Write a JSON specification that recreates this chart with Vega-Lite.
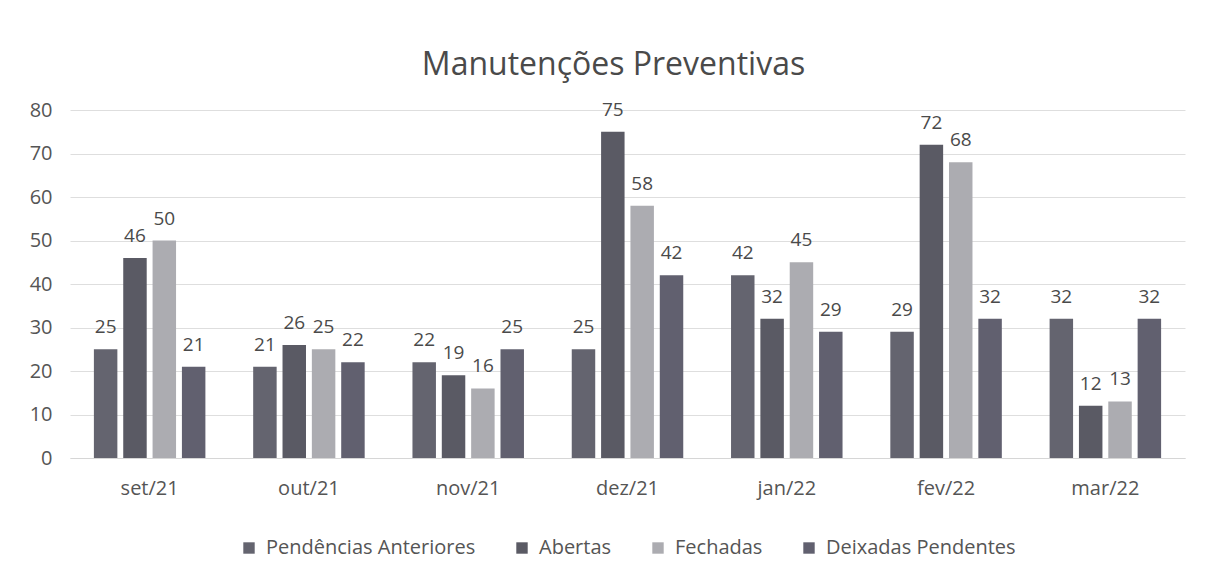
{
  "$schema": "https://vega.github.io/schema/vega-lite/v6.json",
  "width": 1115,
  "height": 348,
  "autosize": {"type": "none"},
  "padding": {"left": 70, "top": 110, "right": 34, "bottom": 126},
  "background": "white",
  "title": {
    "text": "Manutenções Preventivas",
    "font": "Open Sans",
    "fontSize": 32,
    "fontWeight": "normal",
    "color": "#4a4a4a",
    "anchor": "middle",
    "dx": -14,
    "offset": 18
  },
  "data": {
    "values": [
      {"mes": "set/21", "serie": "Pendências Anteriores", "valor": 25},
      {"mes": "set/21", "serie": "Abertas", "valor": 46},
      {"mes": "set/21", "serie": "Fechadas", "valor": 50},
      {"mes": "set/21", "serie": "Deixadas Pendentes", "valor": 21},
      {"mes": "out/21", "serie": "Pendências Anteriores", "valor": 21},
      {"mes": "out/21", "serie": "Abertas", "valor": 26},
      {"mes": "out/21", "serie": "Fechadas", "valor": 25},
      {"mes": "out/21", "serie": "Deixadas Pendentes", "valor": 22},
      {"mes": "nov/21", "serie": "Pendências Anteriores", "valor": 22},
      {"mes": "nov/21", "serie": "Abertas", "valor": 19},
      {"mes": "nov/21", "serie": "Fechadas", "valor": 16},
      {"mes": "nov/21", "serie": "Deixadas Pendentes", "valor": 25},
      {"mes": "dez/21", "serie": "Pendências Anteriores", "valor": 25},
      {"mes": "dez/21", "serie": "Abertas", "valor": 75},
      {"mes": "dez/21", "serie": "Fechadas", "valor": 58},
      {"mes": "dez/21", "serie": "Deixadas Pendentes", "valor": 42},
      {"mes": "jan/22", "serie": "Pendências Anteriores", "valor": 42},
      {"mes": "jan/22", "serie": "Abertas", "valor": 32},
      {"mes": "jan/22", "serie": "Fechadas", "valor": 45},
      {"mes": "jan/22", "serie": "Deixadas Pendentes", "valor": 29},
      {"mes": "fev/22", "serie": "Pendências Anteriores", "valor": 29},
      {"mes": "fev/22", "serie": "Abertas", "valor": 72},
      {"mes": "fev/22", "serie": "Fechadas", "valor": 68},
      {"mes": "fev/22", "serie": "Deixadas Pendentes", "valor": 32},
      {"mes": "mar/22", "serie": "Pendências Anteriores", "valor": 32},
      {"mes": "mar/22", "serie": "Abertas", "valor": 12},
      {"mes": "mar/22", "serie": "Fechadas", "valor": 13},
      {"mes": "mar/22", "serie": "Deixadas Pendentes", "valor": 32}
    ]
  },
  "encoding": {
    "x": {
      "field": "mes", "type": "nominal", "sort": null, "title": null,
      "scale": {"paddingInner": 0.3, "paddingOuter": 0.15},
      "axis": {
        "labelAngle": 0, "labelFont": "Open Sans", "labelFontSize": 20,
        "labelColor": "#555555", "ticks": false, "domain": true,
        "domainColor": "#d6d6d6", "labelPadding": 20
      }
    },
    "xOffset": {
      "field": "serie", "type": "nominal",
      "sort": ["Pendências Anteriores", "Abertas", "Fechadas", "Deixadas Pendentes"],
      "scale": {"paddingInner": 0.2, "paddingOuter": 0}
    },
    "y": {
      "field": "valor", "type": "quantitative", "title": null,
      "scale": {"domain": [0, 80], "nice": false},
      "axis": {
        "values": [0, 10, 20, 30, 40, 50, 60, 70, 80],
        "labelFont": "Open Sans", "labelFontSize": 20, "labelColor": "#555555",
        "ticks": false, "domain": false, "labelPadding": 18,
        "gridColor": "#dedede", "gridWidth": 1
      }
    }
  },
  "layer": [
    {
      "mark": {"type": "bar"},
      "encoding": {
        "color": {
          "field": "serie", "type": "nominal", "title": null,
          "sort": ["Pendências Anteriores", "Abertas", "Fechadas", "Deixadas Pendentes"],
          "scale": {
            "domain": ["Pendências Anteriores", "Abertas", "Fechadas", "Deixadas Pendentes"],
            "range": ["#64646f", "#5a5a64", "#acacb1", "#61606f"]
          },
          "legend": {
            "orient": "bottom", "direction": "horizontal", "symbolType": "square",
            "symbolSize": 130, "symbolStrokeWidth": 0, "labelFont": "Open Sans",
            "labelFontSize": 20, "labelColor": "#555555", "columnPadding": 36,
            "labelOffset": 7, "offset": 40, "labelLimit": 0
          }
        }
      }
    },
    {
      "mark": {"type": "text", "baseline": "alphabetic", "dy": -16, "font": "Open Sans", "fontSize": 19, "color": "#4a4a4a"},
      "encoding": {
        "text": {"field": "valor", "type": "quantitative"}
      }
    }
  ],
  "config": {
    "view": {"stroke": null},
    "legend": {"layout": {"bottom": {"anchor": "middle"}}}
  }
}
